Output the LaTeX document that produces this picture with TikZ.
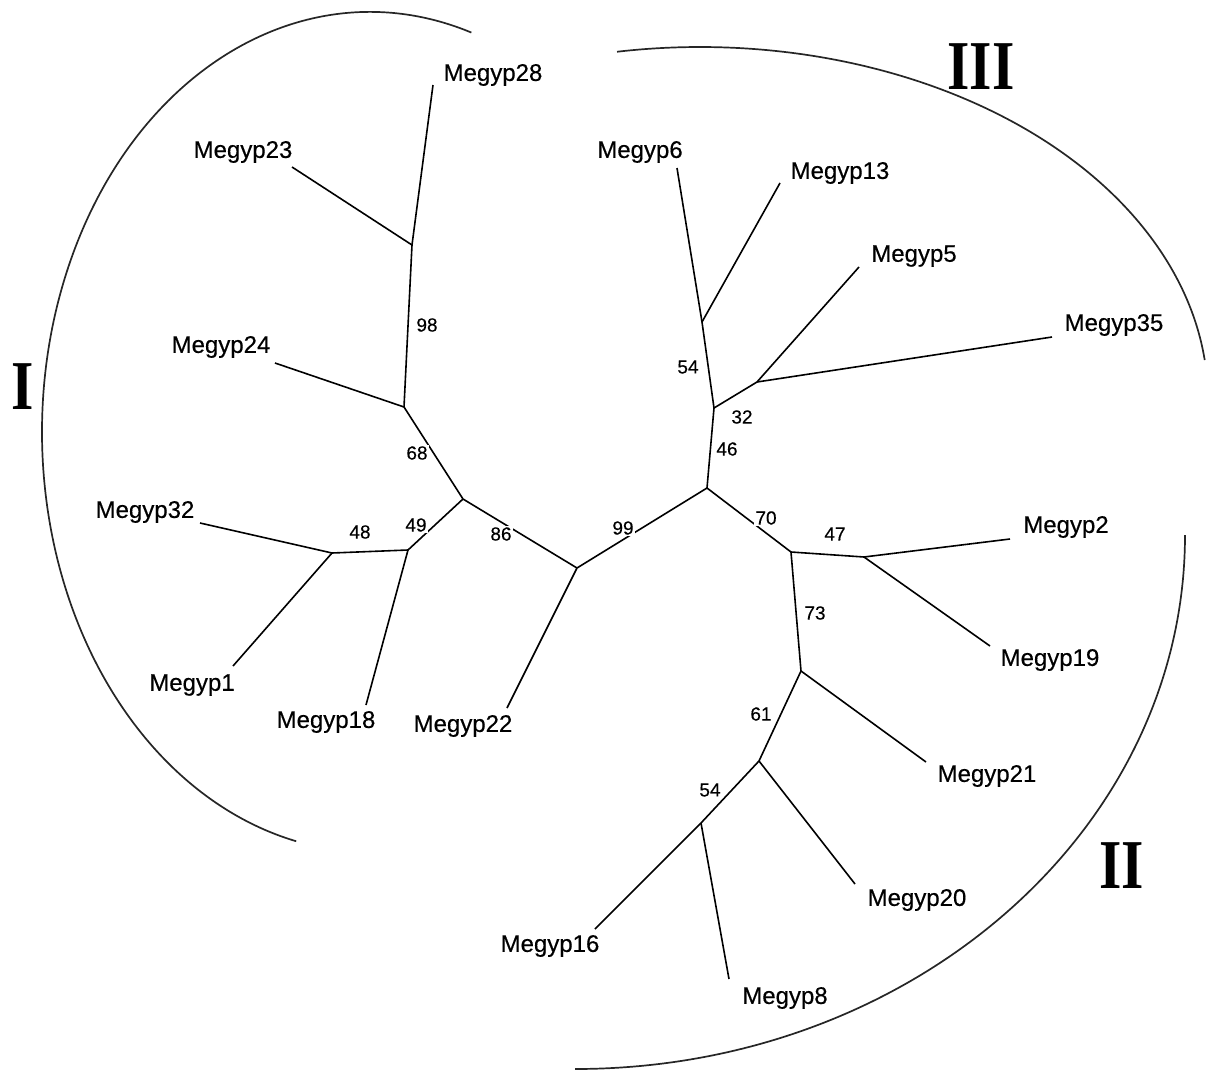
\documentclass[tikz,border=0pt]{standalone}
\usepackage{fontspec}
\setmainfont{Liberation Sans}
\newfontfamily\leaffont[FakeBold=0.35]{Liberation Sans}
\newfontfamily\romanfont{Liberation Serif}
\begin{document}
\begin{tikzpicture}[x=0.5pt,y=-0.5pt,
  branch/.style={line width=0.8pt},
  leaf/.style={font=\leaffont\fontsize{12}{14}\selectfont, inner sep=0pt},
  boot/.style={font=\leaffont\fontsize{9.5}{11}\selectfont, fill=white, inner sep=0.6pt},
  grp/.style={font=\romanfont\bfseries\fontsize{35}{40}\selectfont, inner sep=0pt},
  clade/.style={line width=0.85pt, black!85}]
\useasboundingbox (0,0) rectangle (1206,1071);

% internal vertices
\coordinate (A) at (577,568);
\coordinate (B) at (707,488);
\coordinate (C) at (714,408);
\coordinate (E) at (702,322);
\coordinate (F) at (757,382);
\coordinate (D) at (791,552);
\coordinate (G) at (864,557);
\coordinate (H) at (801,671);
\coordinate (I) at (759,761);
\coordinate (J) at (701,823);
\coordinate (K) at (463,499);
\coordinate (L) at (404,407);
\coordinate (N) at (412,245);
\coordinate (M) at (408,550);
\coordinate (O) at (332,553);

% leaf tips
\coordinate (t28) at (433,85);
\coordinate (t23) at (292,167);
\coordinate (t24) at (275,363);
\coordinate (t32) at (200,523);
\coordinate (t1) at (233,666);
\coordinate (t18) at (366,705);
\coordinate (t22) at (507,708);
\coordinate (t6) at (677,168);
\coordinate (t13) at (780,183);
\coordinate (t5) at (859,267);
\coordinate (t35) at (1052,337);
\coordinate (t2) at (1010,539);
\coordinate (t19) at (990,646);
\coordinate (t21) at (926,762);
\coordinate (t20) at (855,884);
\coordinate (t16) at (595,929);
\coordinate (t8) at (729,979);

% branches
\draw[branch] (A) -- (B);
\draw[branch] (A) -- (K);
\draw[branch] (A) -- (t22);
\draw[branch] (B) -- (C);
\draw[branch] (B) -- (D);
\draw[branch] (C) -- (E);
\draw[branch] (C) -- (F);
\draw[branch] (E) -- (t6);
\draw[branch] (E) -- (t13);
\draw[branch] (F) -- (t5);
\draw[branch] (F) -- (t35);
\draw[branch] (D) -- (G);
\draw[branch] (D) -- (H);
\draw[branch] (G) -- (t2);
\draw[branch] (G) -- (t19);
\draw[branch] (H) -- (t21);
\draw[branch] (H) -- (I);
\draw[branch] (I) -- (t20);
\draw[branch] (I) -- (J);
\draw[branch] (J) -- (t16);
\draw[branch] (J) -- (t8);
\draw[branch] (K) -- (L);
\draw[branch] (K) -- (M);
\draw[branch] (L) -- (t24);
\draw[branch] (L) -- (N);
\draw[branch] (N) -- (t23);
\draw[branch] (N) -- (t28);
\draw[branch] (M) -- (O);
\draw[branch] (M) -- (t18);
\draw[branch] (O) -- (t32);
\draw[branch] (O) -- (t1);

% bootstrap values
\node[boot] (b98) at (427,325) {98};
\node[boot] (b68) at (417,453) {68};
\node[boot] (b49) at (416,525) {49};
\node[boot] (b48) at (360,532) {48};
\node[boot] (b86) at (501,534) {86};
\node[boot] (b99) at (623,528) {99};
\node[boot] (b54a) at (688,367) {54};
\node[boot] (b32) at (742,417) {32};
\node[boot] (b46) at (727,449) {46};
\node[boot] (b70) at (766,518) {70};
\node[boot] (b47) at (835,534) {47};
\node[boot] (b73) at (815,613) {73};
\node[boot] (b61) at (761,714) {61};
\node[boot] (b54b) at (710,790) {54};

% leaf labels
\node[leaf] (l28) at (493,75) {Megyp28};
\node[leaf] (l23) at (243,152) {Megyp23};
\node[leaf] (l24) at (221,347) {Megyp24};
\node[leaf] (l32) at (145,512) {Megyp32};
\node[leaf] (l1) at (192,685) {Megyp1};
\node[leaf] (l18) at (326,722) {Megyp18};
\node[leaf] (l22) at (463,726) {Megyp22};
\node[leaf] (l6) at (640,152) {Megyp6};
\node[leaf] (l13) at (840,173) {Megyp13};
\node[leaf] (l5) at (914,256) {Megyp5};
\node[leaf] (l35) at (1114,325) {Megyp35};
\node[leaf] (l2) at (1066,527) {Megyp2};
\node[leaf] (l19) at (1050,660) {Megyp19};
\node[leaf] (l21) at (987,776) {Megyp21};
\node[leaf] (l20) at (917,900) {Megyp20};
\node[leaf] (l16) at (550,946) {Megyp16};
\node[leaf] (l8) at (785,998) {Megyp8};

% clade arcs
\draw[clade] (370,432) ++(-72:328 and 420) arc[start angle=-72, end angle=-257, x radius=328, y radius=420];
\draw[clade] (700,400) ++(-99.4:508 and 353) arc[start angle=-99.4, end angle=-6.5, x radius=508, y radius=353];
\draw[clade] (575,535) ++(0:610 and 534) arc[start angle=0, end angle=90, x radius=610, y radius=534];

% group labels
\node[grp] (gI) at (23,387) {\scalebox{0.82}[1]{I}};
\node[grp] (gIII) at (981,67) {\scalebox{0.82}[1]{III}};
\node[grp] (gII) at (1122,866) {\scalebox{0.82}[1]{II}};
\end{tikzpicture}
\end{document}
